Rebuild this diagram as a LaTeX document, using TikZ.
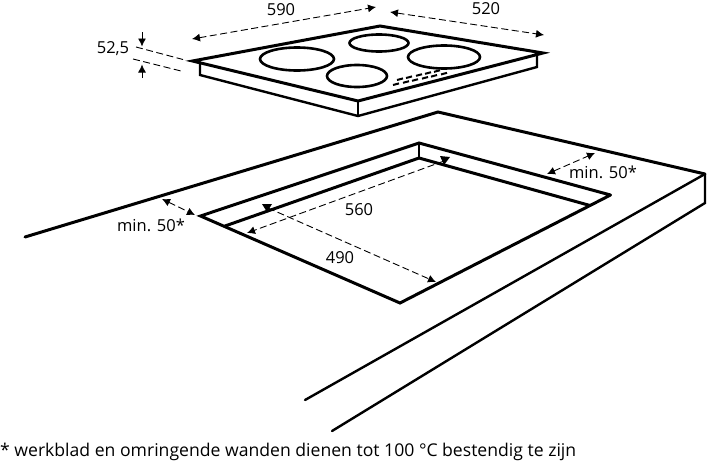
\documentclass[tikz,border=0pt]{standalone}
\usepackage{fontspec}
\setmainfont{Open Sans}
\usetikzlibrary{arrows.meta}
\tikzset{
  thick line/.style={line width=3pt,line join=miter,line cap=round},
  mid line/.style={line width=2.4pt,line join=miter,line cap=round},
  dim/.style={line width=0.9pt,dash pattern=on 7pt off 3.5pt},
  dimarrow/.style={dim,{Latex[length=8pt,width=8pt]}-{Latex[length=8pt,width=8pt]}},
  dimend/.style={dim,-{Latex[length=8pt,width=8pt]}},
  solidarrow/.style={line width=0.9pt,-{Latex[length=8pt,width=8pt]}},
  burner/.style={line width=2.6pt},
  lab/.style={font=\fontsize{16.5}{18}\selectfont,inner sep=0pt},
  note/.style={font=\fontsize{17.6}{20}\selectfont,inner sep=0pt,anchor=west},
  ctrl/.style={line width=2pt}
}
\begin{document}
\begin{tikzpicture}[x=1pt,y=-1pt]
\useasboundingbox (0,0) rectangle (708,463);
% hob
\coordinate (hl) at (192.5,61);
\coordinate (ht) at (380,26);
\coordinate (hr) at (543,53);
\coordinate (hf) at (358,101);
\coordinate (hlb) at (200,64);
\coordinate (hlc) at (200,75);
\coordinate (hfb) at (358,116);
\coordinate (hrb) at (537,55);
\coordinate (hrc) at (537,67);
\draw[thick line] (hl) -- (ht) -- (hr) -- (hf) -- cycle;
\draw[mid line] (hlb) -- (hlc) -- (hfb) -- (hrc) -- (hrb);
\draw[mid line] (hf) -- (hfb);
\draw[burner] (297,59) ellipse [x radius=37,y radius=11.5];
\draw[burner] (357,76) ellipse [x radius=30,y radius=11];
\draw[burner] (379,43) ellipse [x radius=29.5,y radius=8.5];
\draw[burner] (444,57) ellipse [x radius=36,y radius=11.5];
\foreach \a in {393,403,412,422,431,441}{
  \draw[ctrl] (\a,85-0.22*\a+0.22*393) -- ++(6,-1.6);}
\foreach \a in {397,406,416,425,434}{
  \draw[ctrl] (\a,80-0.22*\a+0.22*397) -- ++(6,-1.6);}
% counter
\coordinate (cl) at (25,237);
\coordinate (ct) at (438,112);
\coordinate (cr) at (705,174);
\coordinate (cf) at (305,400);
\coordinate (crb) at (705,203);
\coordinate (cfb) at (332,431);
\draw[thick line] (cl) -- (ct) -- (cr);
\draw[mid line] (cr) -- (cf);
\draw[mid line] (cr) -- (crb) -- (cfb);
% cutout
\coordinate (kl) at (200.5,216);
\coordinate (kt) at (419,143);
\coordinate (kr) at (610.5,195);
\coordinate (kb) at (400,303);
\coordinate (il) at (225,226);
\coordinate (it) at (419,158);
\coordinate (ir) at (590,205.5);
% dimensions
\coordinate (d1a) at (192,39); \coordinate (d1b) at (376,7);
\coordinate (d2a) at (390,12); \coordinate (d2b) at (544,35);
\draw[dimarrow] (d1a) -- (d1b);
\draw[dimarrow] (d2a) -- (d2b);
\coordinate (e1a) at (136,47); \coordinate (e1b) at (183,59.5);
\coordinate (e2a) at (133,59); \coordinate (e2b) at (181,71);
\draw[dim] (e1a) -- (e1b);
\draw[dim] (e2a) -- (e2b);
\coordinate (a1a) at (142,32); \coordinate (a1b) at (142,46.5);
\coordinate (a2a) at (142,78); \coordinate (a2b) at (142,64.5);
\draw[solidarrow] (a1a) -- (a1b);
\draw[solidarrow] (a2a) -- (a2b);
\coordinate (m1a) at (162,199); \coordinate (m1b) at (195,215);
\coordinate (m2a) at (547,174); \coordinate (m2b) at (595,153);
\draw[dimarrow] (m1a) -- (m1b);
\draw[dimarrow] (m2a) -- (m2b);
\coordinate (s1) at (247,233); \coordinate (s2) at (444,161);
\coordinate (n1) at (268,208); \coordinate (n2) at (436,282);
\draw[dimend] (s2) -- (s1);
\draw[dimend] (n1) -- (n2);
\fill (262,204) -- (272,204) -- (267,212) -- cycle;
\fill (440,156) -- (450,157) -- (444,165) -- cycle;
\draw[thick line] (kr) -- (kb) -- (kl) -- (kt) -- (kr);
\draw[thick line] (il) -- (it) -- (ir);
\draw[mid line] (kt) -- (it);
% labels
\node[lab] (l590) at (281,10) {590};
\node[lab] (l520) at (486,8.5) {520};
\node[lab] (l525) at (113,49) {52,5};
\node[lab] (lm1) at (151,225) {min. 50*};
\node[lab] (lm2) at (603,172) {min. 50*};
\node[lab] (l560) at (359,210) {560};
\node[lab] (l490) at (340,258) {490};
\node[note] (fn) at (0,452) {* werkblad en omringende wanden dienen tot 100 °C bestendig te zijn};
\end{tikzpicture}
\end{document}
